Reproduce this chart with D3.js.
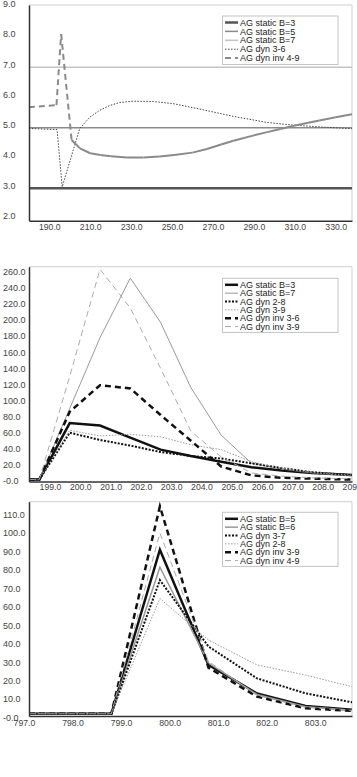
<!DOCTYPE html>
<html>
<head>
<meta charset="utf-8">
<script src="https://cdnjs.cloudflare.com/ajax/libs/d3/7.8.5/d3.min.js"></script>
<style>
body { margin: 0; background: #fff; }
svg { display: block; font-family: "Liberation Sans", Arial, sans-serif; }
</style>
</head>
<body>
<div id="chart"></div>
<script>
// ---- panel 1 data ----
var p1XTicks = [190, 210, 230, 250, 270, 290, 310, 330];
var p1YTicks = [2, 3, 4, 5, 6, 7, 8, 9];
var p1StaticB = [3, 5, 7];
var p1DynX = [180, 193.8, 196.3, 204.9, 209.8, 214.7, 219.6, 224.5, 231, 240.8, 250.5, 263.6, 279.9, 296.2, 309.2, 322.2, 338];
var p1Dyn36 = [4.98, 4.94, 3.05, 4.98, 5.35, 5.58, 5.74, 5.84, 5.88, 5.87, 5.80, 5.62, 5.38, 5.18, 5.09, 5.03, 4.97];
var p1InvX = [180, 193.5, 195.8, 200.9, 205, 210, 215, 220, 228, 236, 244, 251, 260, 267, 274, 280, 290, 296, 303, 309, 316, 322, 330, 338];
var p1Inv49 = [5.68, 5.75, 8.1, 4.6, 4.32, 4.16, 4.10, 4.06, 4.02, 4.02, 4.05, 4.10, 4.18, 4.30, 4.45, 4.57, 4.75, 4.85, 4.96, 5.06, 5.16, 5.24, 5.35, 5.45];

// ---- panel 2 data ----
var p2XTicks = [199, 200, 201, 202, 203, 204, 205, 206, 207, 208, 209];
var p2YTicks = [0, 20, 40, 60, 80, 100, 120, 140, 160, 180, 200, 220, 240, 260];
var p2X = [198.3, 198.65, 199.65, 200.65, 201.65, 202.65, 203.65, 204.65, 205.65, 206.65, 207.65, 208.65, 209.65];
var p2B3 = [2, 2, 72, 69, 54, 39, 31, 24, 17, 13, 10, 8, 6];
var p2B7 = [2, 2, 90, 178, 252, 197, 116, 57, 22, 15, 10, 7, 5];
var p2Dyn28 = [2, 2, 60, 51, 44, 36, 31, 28, 22, 16, 11, 8, 6];
var p2Dyn39 = [2, 2, 63, 56, 58, 55, 45, 39, 24, 16, 11, 8, 6];
var p2Inv36 = [2, 2, 86, 119, 115, 82, 50, 18, 7, 4, 3, 2, 2];
var p2Inv39 = [2, 2, 130, 263, 215, 140, 62, 30, 10, 6, 4, 3, 3];

// ---- panel 3 data ----
var p3XTicks = [797, 798, 799, 800, 801, 802, 803];
var p3YTicks = [0, 10, 20, 30, 40, 50, 60, 70, 80, 90, 100, 110];
var p3X = [797.1, 797.8, 798.8, 799.8, 800.8, 801.8, 802.8, 803.8];
var p3B5 = [2, 2, 2, 91, 28.5, 13, 6.2, 4.1];
var p3B6 = [2, 2, 2, 81.5, 29.5, 12.5, 5.8, 3.8];
var p3Dyn37 = [2, 2, 2, 74.5, 38.5, 21.2, 13.1, 8];
var p3Dyn28 = [2, 2, 2, 64.5, 42, 28.5, 23, 16.4];
var p3Inv39 = [2, 2, 2, 114.5, 27, 11.3, 5, 3.5];
var p3Inv49 = [2, 2, 2, 100, 30.5, 12, 5.5, 3.6];

var svg = d3.select("#chart")
    .append("svg")
    .attr("width", 357)
    .attr("height", 777);

function fmt(d) {
    return d === 0 ? "-0.0" : d.toFixed(1);
}

function zip(xs, ys) {
    return xs.map((x, i) => [x, ys[i]]);
}

// draws one chart panel
function drawPanel(p, idx) {
    var x = d3.scaleLinear().domain(p.xDomain).range([29, 352]);
    var y = d3.scaleLinear().domain(p.yDomain).range([p.bottom, p.top]);

    var g = svg.append("g");

    // light frame top / right
    g.append("path")
        .attr("d", `M29,${p.top}H352V${p.bottom}`)
        .attr("fill", "none")
        .attr("stroke", "#cfcfcf")
        .attr("stroke-width", 1);

    svg.append("clipPath")
        .attr("id", "clip" + idx)
        .append("rect")
        .attr("x", 29)
        .attr("y", p.top)
        .attr("width", 323)
        .attr("height", p.bottom - p.top);

    var plot = g.append("g").attr("clip-path", `url(#clip${idx})`);

    var line = d3.line().x(d => x(d[0])).y(d => y(d[1]));

    p.series.forEach(s => {
        if (s.splitDash) {
            // long segments dashed, short ones look solid
            for (var i = 0; i < s.pts.length - 1; i++) {
                var a = s.pts[i], b = s.pts[i + 1];
                var len = Math.hypot(x(b[0]) - x(a[0]), y(b[1]) - y(a[1]));
                plot.append("line")
                    .attr("x1", x(a[0])).attr("y1", y(a[1]))
                    .attr("x2", x(b[0])).attr("y2", y(b[1]))
                    .attr("stroke", s.color)
                    .attr("stroke-width", s.width)
                    .attr("stroke-dasharray", len > 25 ? s.dash : null);
            }
        } else {
            plot.append("path")
                .attr("d", line(s.pts))
                .attr("fill", "none")
                .attr("stroke", s.color)
                .attr("stroke-width", s.width)
                .attr("stroke-dasharray", s.dash);
        }
    });

    // axes
    var xAxis = g.append("g")
        .attr("transform", `translate(0,${p.bottom})`)
        .call(d3.axisBottom(x).tickValues(p.xTicks).tickFormat(fmt).tickSize(0).tickSizeOuter(0).tickPadding(p.xPad));
    var yAxis = g.append("g")
        .attr("transform", "translate(29,0)")
        .call(d3.axisLeft(y).tickValues(p.yTicks).tickFormat(fmt).tickSize(0).tickSizeOuter(0));

    [xAxis, yAxis].forEach(a => {
        a.select(".domain").attr("stroke", "#333").attr("stroke-width", 1.5);
        a.selectAll("text").attr("fill", "#444").attr("font-size", 9);
    });
    yAxis.selectAll("text")
        .attr("text-anchor", "start")
        .attr("x", -26)
        .attr("y", p.yShift);
    xAxis.selectAll("text").attr("font-size", 8.7);

    // legend
    var lg = g.append("g");
    var n = p.series.length;
    lg.append("rect")
        .attr("x", 222.5)
        .attr("y", p.legTop)
        .attr("width", 115.5)
        .attr("height", n * p.legStep + 4)
        .attr("fill", "#fff")
        .attr("stroke", "#c4c4c4")
        .attr("stroke-width", 1);
    p.series.forEach((s, i) => {
        var ly = p.legTop + 6.5 + i * p.legStep;
        lg.append("line")
            .attr("x1", 225).attr("x2", 238)
            .attr("y1", ly).attr("y2", ly)
            .attr("stroke", s.color)
            .attr("stroke-width", s.width)
            .attr("stroke-dasharray", s.dash);
        lg.append("text")
            .attr("x", 240)
            .attr("y", ly)
            .attr("dy", "0.35em")
            .attr("font-size", 9)
            .attr("fill", "#222")
            .text(s.name);
    });
}

var p1Domain = [180.08, 337.95];

drawPanel({
    top: 5, bottom: 220.7,
    xDomain: p1Domain, yDomain: [1.93, 9.06],
    xTicks: p1XTicks, yTicks: p1YTicks, xPad: 3, yShift: -3,
    legTop: 16, legStep: 8.9,
    series: [
        { name: "AG static B=3", pts: p1Domain.map(v => [v, p1StaticB[0]]), color: "#555", width: 2.5, dash: null },
        { name: "AG static B=5", pts: p1Domain.map(v => [v, p1StaticB[1]]), color: "#8a8a8a", width: 1.5, dash: null },
        { name: "AG static B=7", pts: p1Domain.map(v => [v, p1StaticB[2]]), color: "#c4c4c4", width: 1.5, dash: null },
        { name: "AG dyn 3-6", pts: zip(p1DynX, p1Dyn36), color: "#444", width: 1, dash: "1.5,1.5" },
        { name: "AG dyn inv 4-9", pts: zip(p1InvX, p1Inv49), color: "#8a8a8a", width: 2, dash: "6,4", splitDash: true }
    ]
}, 1);

drawPanel({
    top: 266.7, bottom: 481.5,
    xDomain: [198.307, 208.967], yDomain: [-0.6, 266.2],
    xTicks: p2XTicks, yTicks: p2YTicks, xPad: 2, yShift: 0,
    legTop: 278.3, legStep: 8.35,
    series: [
        { name: "AG static B=3", pts: zip(p2X, p2B3), color: "#111", width: 2.5, dash: null },
        { name: "AG static B=7", pts: zip(p2X, p2B7), color: "#999", width: 1, dash: null },
        { name: "AG dyn 2-8", pts: zip(p2X, p2Dyn28), color: "#111", width: 2, dash: "2,1.5" },
        { name: "AG dyn 3-9", pts: zip(p2X, p2Dyn39), color: "#999", width: 1, dash: "1.5,1.5" },
        { name: "AG dyn inv 3-6", pts: zip(p2X, p2Inv36), color: "#111", width: 2.5, dash: "6,4" },
        { name: "AG dyn inv 3-9", pts: zip(p2X, p2Inv39), color: "#aaa", width: 1, dash: "6,4" }
    ]
}, 2);

drawPanel({
    top: 501.7, bottom: 716,
    xDomain: [797.104, 803.757], yDomain: [0.8, 117],
    xTicks: p3XTicks, yTicks: p3YTicks, xPad: 3.5, yShift: 0,
    legTop: 512.3, legStep: 8.35,
    series: [
        { name: "AG static B=5", pts: zip(p3X, p3B5), color: "#111", width: 2.5, dash: null },
        { name: "AG static B=6", pts: zip(p3X, p3B6), color: "#999", width: 1.5, dash: null },
        { name: "AG dyn 3-7", pts: zip(p3X, p3Dyn37), color: "#111", width: 2, dash: "2,1.5" },
        { name: "AG dyn 2-8", pts: zip(p3X, p3Dyn28), color: "#999", width: 1, dash: "1.5,1.5" },
        { name: "AG dyn inv 3-9", pts: zip(p3X, p3Inv39), color: "#111", width: 2.5, dash: "6,4" },
        { name: "AG dyn inv 4-9", pts: zip(p3X, p3Inv49), color: "#aaa", width: 1, dash: "6,4" }
    ]
}, 3);
</script>
</body>
</html>
